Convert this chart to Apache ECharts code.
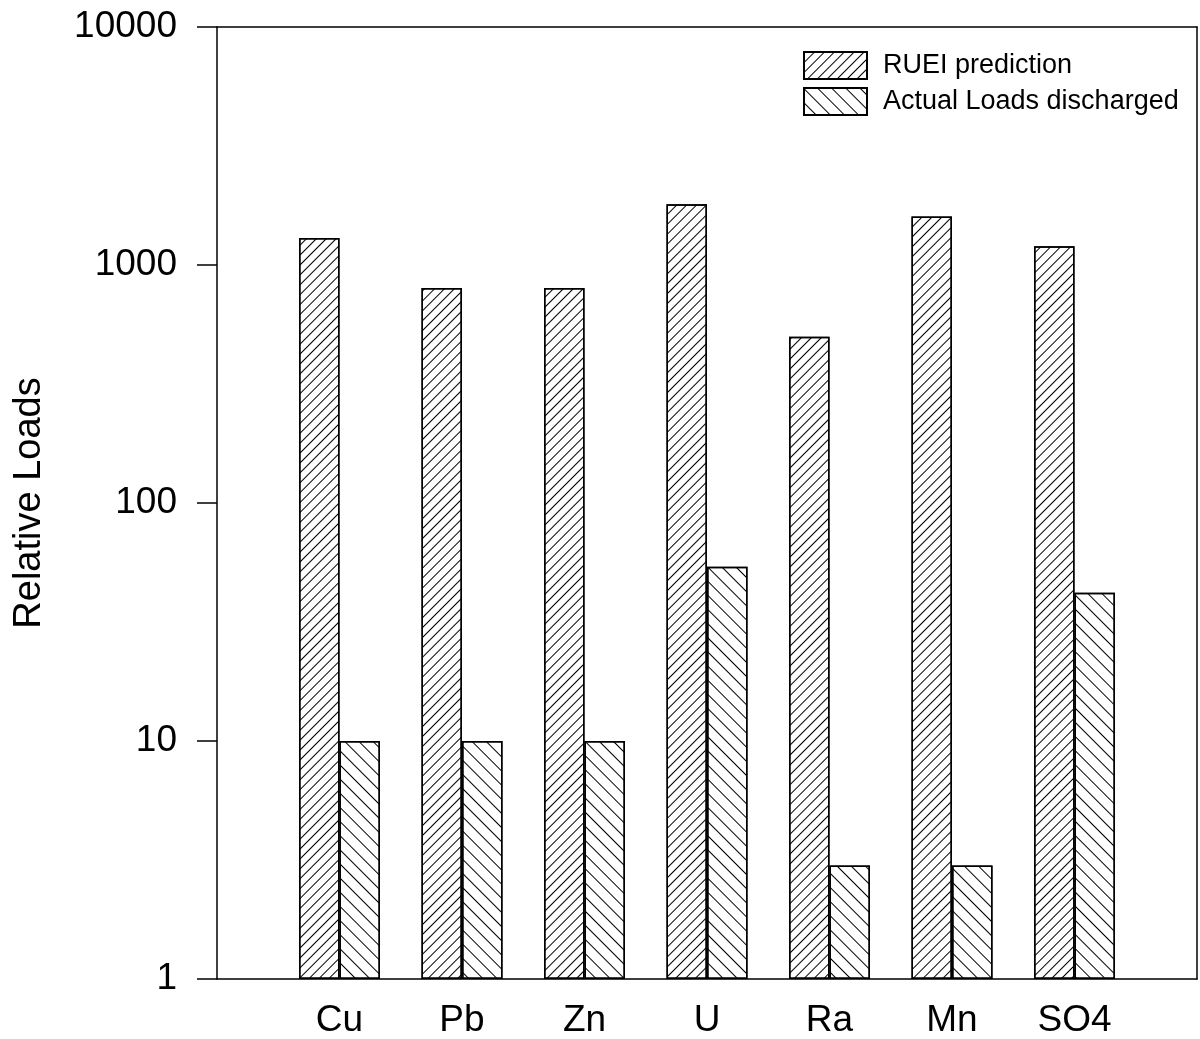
<!DOCTYPE html>
<html>
<head>
<meta charset="utf-8">
<script src="https://cdn.jsdelivr.net/npm/echarts@6/dist/echarts.min.js"></script>
<style>
html,body{margin:0;padding:0;background:#fff;overflow:hidden;}
#chart{width:1200px;height:1039px;}
</style>
</head>
<body>
<div id="chart"></div>
<script>
const categories = ['Cu', 'Pb', 'Zn', 'U', 'Ra', 'Mn', 'SO4'];
const ruei = [1300, 800, 800, 1800, 500, 1600, 1200];
const actual = [10, 10, 10, 54, 3, 3, 42];
const yTicks = [1, 10, 100, 1000, 10000];

const axisCats = [''].concat(categories, ['']);
const pad = arr => [null].concat(arr, [null]);
const FONT = '"Liberation Sans", Arial, sans-serif';

const chart = echarts.init(document.getElementById('chart'), null, {renderer: 'canvas'});
chart.setOption({
  backgroundColor: '#fff',
  animation: false,
  grid: {left: 217, right: 0, top: 27, bottom: 58},
  legend: {
    orient: 'vertical',
    left: 803, top: 51,
    padding: 0,
    itemWidth: 63, itemHeight: 27, itemGap: 7,
    icon: 'rect',
    textStyle: {fontSize: 27, fontFamily: FONT, color: '#000', padding: [0, 0, 0, 11]},
    data: ['RUEI prediction', 'Actual Loads discharged']
  },
  xAxis: [{
    type: 'category', data: axisCats, boundaryGap: false,
    axisLine: {lineStyle: {color: '#000', width: 1.5}},
    axisTick: {show: false},
    axisLabel: {fontSize: 37, fontFamily: FONT, color: '#000', margin: 23, interval: 0},
    splitLine: {show: false}
  }, {
    type: 'category', data: axisCats, boundaryGap: false, position: 'top',
    axisLine: {lineStyle: {color: '#000', width: 1.5}},
    axisTick: {show: false}, axisLabel: {show: false}, splitLine: {show: false}
  }],
  yAxis: [{
    type: 'log', min: yTicks[0], max: yTicks[yTicks.length - 1], logBase: 10,
    name: 'Relative Loads', nameLocation: 'middle', nameGap: 168,
    nameTextStyle: {fontSize: 38, fontFamily: FONT, color: '#000'},
    axisLine: {show: true, lineStyle: {color: '#000', width: 1.5}},
    axisTick: {show: true, length: 20, inside: false, lineStyle: {color: '#000', width: 1.5}},
    axisLabel: {fontSize: 37, fontFamily: FONT, color: '#000', margin: 40,
      formatter: v => String(Math.round(v))},
    minorTick: {show: false},
    splitLine: {show: false}
  }, {
    type: 'log', min: yTicks[0], max: yTicks[yTicks.length - 1], logBase: 10, position: 'right',
    axisLine: {show: true, lineStyle: {color: '#000', width: 1.5}},
    axisTick: {show: false}, axisLabel: {show: false}, splitLine: {show: false}
  }],
  series: [{
    name: 'RUEI prediction', type: 'bar', data: pad(ruei),
    barWidth: 40.5, barGap: '0%',
    itemStyle: {
      color: '#fff', borderColor: '#000', borderWidth: 1.5,
      decal: {symbol: 'rect', symbolSize: 1, color: '#000', dashArrayX: [1, 0], dashArrayY: [1, 6], rotation: -Math.PI / 4}
    }
  }, {
    name: 'Actual Loads discharged', type: 'bar', data: pad(actual),
    barWidth: 40.5, barGap: '0%',
    itemStyle: {
      color: '#fff', borderColor: '#000', borderWidth: 1.5,
      decal: {symbol: 'rect', symbolSize: 1, color: '#000', dashArrayX: [1, 0], dashArrayY: [1, 8.5], rotation: Math.PI / 4}
    }
  }]
});
</script>
</body>
</html>
